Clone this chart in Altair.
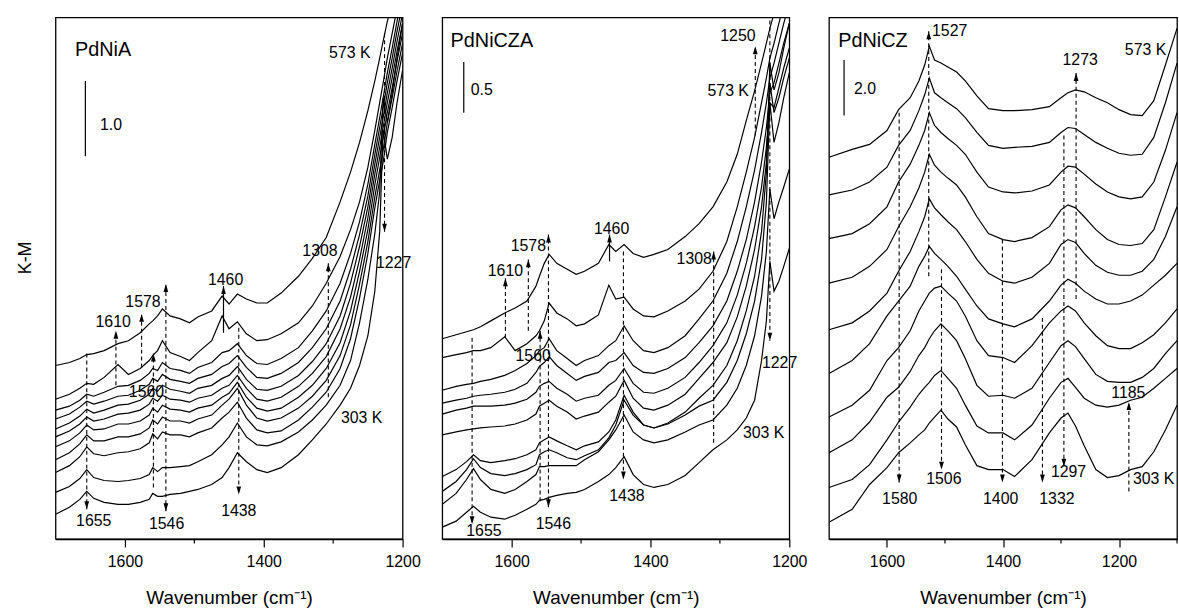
import altair as alt
import pandas as pd

FONT = "Liberation Sans"
H = 526  # plot height (K-M axis span, arbitrary stacked units)

# ---------------- wavenumber grids (cm-1) ----------------
WN_A = [1700, 1680, 1665, 1655, 1645, 1630, 1610, 1595, 1578, 1565, 1560, 1553, 1546, 1535, 1520,
        1507, 1495, 1475, 1460, 1450, 1438, 1425, 1410, 1395, 1375, 1350, 1330, 1310, 1290, 1275,
        1262, 1250, 1240, 1233, 1228, 1222, 1215, 1208, 1200]
WN_B = WN_A
WN_C = [1700, 1660, 1630, 1600, 1580, 1560, 1545, 1535, 1527, 1518, 1507, 1495, 1480, 1465, 1445,
        1425, 1400, 1380, 1350, 1320, 1300, 1288, 1275, 1260, 1240, 1220, 1200, 1180, 1160, 1140,
        1120, 1100]

# ---------------- PdNiA spectra (top = 573 K ... bottom = 303 K), stacked K-M ----------------
A1 = [175, 178, 182, 186, 187, 190, 197, 200, 208, 217, 220, 225, 232, 225, 222, 218, 224, 230, 245, 237,
      247, 242, 238, 238, 248, 265, 283, 304, 340, 370, 400, 432, 462, 485, 502, 522, 540, 560, 585]
A2 = [141, 146, 152, 157, 156, 163, 176, 166, 172, 180, 185, 190, 200, 188, 184, 180, 188, 200, 225, 212,
      219, 207, 200, 201, 207, 218, 235, 258, 285, 312, 340, 375, 412, 440, 460, 485, 510, 535, 560]
A3 = [130, 134, 140, 146, 144, 148, 154, 155, 160, 167, 172, 170, 178, 172, 170, 167, 173, 178, 188, 190,
      197, 185, 177, 176, 182, 193, 210, 230, 258, 288, 320, 358, 398, 425, 445, 470, 495, 522, 550]
A4 = [121, 126, 133, 139, 136, 139, 144, 145, 150, 156, 162, 159, 166, 161, 159, 157, 162, 166, 174, 177,
      185, 173, 163, 162, 167, 178, 193, 212, 240, 272, 307, 346, 388, 415, 435, 460, 485, 512, 540]
A5 = [111, 117, 124, 131, 127, 130, 135, 136, 140, 146, 152, 149, 155, 151, 149, 147, 152, 155, 162, 165,
      174, 161, 151, 150, 154, 165, 179, 197, 225, 258, 295, 335, 378, 405, 425, 450, 475, 502, 530]
A6 = [103, 109, 116, 123, 119, 121, 126, 127, 130, 136, 142, 139, 145, 141, 140, 138, 142, 145, 152, 155,
      165, 152, 141, 139, 143, 154, 167, 184, 212, 244, 282, 324, 368, 395, 415, 440, 465, 492, 520]
A7 = [93, 99, 107, 115, 110, 111, 116, 116, 119, 125, 132, 128, 135, 131, 130, 128, 132, 135, 143, 147,
      158, 143, 132, 129, 132, 143, 155, 172, 198, 230, 270, 312, 357, 385, 405, 430, 455, 482, 510]
A8 = [80, 87, 96, 105, 99, 99, 103, 103, 106, 112, 120, 116, 123, 119, 119, 117, 121, 125, 135, 141,
      152, 135, 122, 119, 122, 132, 144, 160, 185, 216, 257, 300, 345, 372, 392, 420, 445, 472, 500]
A9 = [67, 74, 83, 93, 86, 84, 87, 88, 91, 97, 106, 101, 108, 105, 105, 103, 107, 112, 122, 128,
      138, 122, 110, 107, 109, 120, 133, 148, 172, 202, 243, 288, 334, 362, 380, 410, 435, 462, 490]
A10 = [47, 53, 61, 70, 62, 59, 58, 59, 61, 65, 72, 68, 72, 72, 73, 74, 78, 85, 95, 103,
       117, 103, 95, 94, 98, 108, 120, 135, 155, 180, 218, 262, 308, 350, 445, 420, 450, 485, 520]
A11 = [25, 32, 40, 48, 41, 37, 35, 35, 37, 40, 46, 43, 43, 45, 46, 48, 50, 55, 62, 72,
       87, 78, 70, 67, 72, 85, 100, 116, 135, 152, 175, 205, 250, 310, 413, 383, 405, 440, 473]

# ---------------- PdNiCZA spectra ----------------
B1 = [202, 206, 209, 211, 214, 220, 228, 233, 240, 255, 265, 278, 287, 278, 272, 267, 270, 278, 297, 290,
      297, 288, 284, 287, 292, 305, 318, 335, 360, 388, 422, 452, 480, 500, 515, 530, 545, 560, 580]
B2 = [183, 186, 188, 190, 190, 193, 204, 190, 197, 205, 210, 220, 238, 228, 222, 215, 217, 226, 256, 242,
      244, 232, 225, 224, 230, 240, 252, 270, 300, 335, 370, 405, 440, 465, 485, 500, 520, 540, 560]
B3 = [150, 154, 156, 157, 159, 161, 165, 170, 177, 185, 190, 193, 202, 190, 182, 175, 180, 185, 195, 200,
      215, 200, 190, 188, 193, 205, 222, 240, 268, 300, 335, 372, 410, 440, 465, 480, 500, 520, 540]
B4 = [137, 140, 142, 144, 145, 146, 148, 151, 157, 168, 174, 178, 184, 175, 167, 160, 164, 168, 178, 180,
      188, 175, 168, 167, 172, 183, 198, 215, 240, 270, 302, 340, 380, 415, 450, 460, 480, 500, 520]
B5 = [126, 130, 132, 134, 134, 134, 135, 137, 141, 148, 154, 157, 159, 152, 146, 139, 142, 145, 155, 160,
      172, 157, 148, 147, 152, 163, 178, 195, 218, 246, 278, 315, 355, 395, 440, 435, 455, 475, 495]
B6 = [105, 108, 110, 111, 112, 113, 114, 116, 120, 126, 134, 137, 140, 134, 128, 121, 124, 128, 138, 144,
      160, 142, 132, 130, 135, 146, 162, 178, 198, 224, 255, 292, 335, 380, 460, 430, 445, 465, 485]
B7 = [63, 70, 78, 85, 79, 77, 79, 81, 85, 90, 97, 100, 103, 99, 94, 90, 94, 98, 108, 120,
      145, 128, 115, 112, 117, 128, 142, 155, 175, 200, 230, 265, 310, 370, 480, 453, 470, 495, 520]
B8 = [48, 58, 70, 81, 72, 66, 64, 66, 70, 75, 85, 88, 90, 87, 82, 80, 84, 90, 102, 115,
      140, 125, 115, 112, 116, 125, 134, 140, 158, 180, 207, 240, 282, 340, 440, 400, 420, 445, 470]
B9 = [35, 46, 60, 71, 60, 50, 46, 50, 58, 65, 73, 73, 74, 74, 74, 74, 80, 88, 100, 110,
      125, 108, 100, 97, 100, 108, 115, 120, 135, 152, 175, 205, 245, 290, 353, 323, 340, 355, 373]
B10 = [12, 18, 27, 33, 27, 22, 20, 24, 30, 35, 39, 40, 42, 44, 46, 47, 50, 58, 65, 72,
       83, 65, 55, 52, 55, 64, 77, 90, 100, 110, 122, 140, 180, 220, 280, 250, 260, 275, 293]

# ---------------- PdNiCZ spectra ----------------
C1 = [385, 393, 398, 412, 433, 445, 462, 478, 497, 483, 480, 476, 471, 462, 447, 434, 432, 432, 433, 436,
      445, 450, 453, 451, 445, 440, 433, 428, 427, 442, 478, 515]
C2 = [347, 352, 360, 375, 397, 412, 432, 448, 465, 450, 445, 440, 434, 425, 410, 397, 394, 395, 396, 400,
      410, 415, 414, 408, 400, 394, 389, 387, 388, 405, 440, 480]
C3 = [303, 308, 318, 335, 360, 378, 397, 412, 430, 417, 410, 404, 397, 388, 370, 355, 350, 349, 351, 357,
      370, 376, 375, 368, 358, 350, 345, 343, 345, 360, 392, 430]
C4 = [258, 264, 275, 292, 315, 335, 354, 370, 388, 377, 370, 364, 357, 345, 325, 308, 302, 300, 304, 315,
      332, 337, 334, 325, 312, 302, 297, 296, 298, 312, 345, 380]
C5 = [211, 218, 230, 248, 270, 290, 310, 325, 343, 334, 327, 320, 312, 300, 282, 268, 260, 258, 264, 278,
      297, 302, 299, 288, 276, 269, 266, 266, 270, 282, 305, 335]
C6 = [167, 180, 197, 225, 240, 255, 275, 285, 295, 288, 282, 275, 265, 252, 235, 222, 217, 214, 222, 240,
      256, 262, 258, 250, 242, 237, 237, 240, 246, 256, 266, 278]
C7 = [123, 135, 150, 180, 193, 210, 230, 240, 248, 253, 255, 248, 240, 225, 200, 185, 183, 178, 195, 218,
      230, 235, 230, 218, 205, 195, 192, 192, 198, 206, 218, 232]
C8 = [87, 100, 118, 143, 153, 169, 185, 193, 202, 210, 217, 210, 200, 182, 155, 144, 145, 142, 152, 178,
      195, 200, 194, 182, 166, 159, 158, 158, 163, 172, 187, 200]
C9 = [52, 60, 75, 100, 118, 133, 146, 153, 158, 165, 170, 162, 152, 135, 114, 107, 107, 100, 115, 142,
      158, 162, 153, 142, 135, 133, 135, 140, 143, 152, 162, 172]
C10 = [17, 30, 55, 72, 87, 97, 105, 110, 117, 123, 130, 121, 113, 95, 74, 70, 70, 63, 80, 107,
       122, 127, 114, 94, 70, 62, 64, 70, 73, 88, 110, 135]

# ---------------- axis ticks ----------------
MAJOR_TICKS = [1600, 1400, 1200]
MINOR_TICKS_AB = [1500, 1300]
MINOR_TICKS_C = [1500, 1300, 1100]

# ---------------- annotations: (text, wavenumber, K-M) ----------------
A_TXT = [("1655", 1645, 18), ("1610", 1617, 219), ("1578", 1574, 239), ("1560", 1569, 148),
         ("1546", 1540, 15), ("1460", 1455, 261), ("1438", 1436, 28), ("1308", 1319, 290),
         ("1227", 1213, 278), ("573 K", 1276, 490), ("303 K", 1259, 122)]
A_TXT_L = [("1.0", 1636, 417)]
A_NAME = [("PdNiA", 1672, 493)]
# arrows: (wavenumber, from, tip, head, solid?)
A_ARR = [(1655, 187, 30, "down", False), (1613, 155, 210, "up", False), (1576, 173, 227, "up", False),
         (1559, 52, 187, "up", False), (1541, 28, 257, "both", False), (1458, 208, 255, "up", True),
         (1436, 213, 45, "down", False), (1307, 143, 278, "up", False), (1226, 510, 310, "down", False)]
A_BAR = (1657, 386, 462)

B_TXT = [("1610", 1609, 270), ("1578", 1576, 295), ("1560", 1569, 185), ("1460", 1456, 313),
         ("1308", 1337, 282), ("1250", 1274, 507), ("573 K", 1288, 452), ("1227", 1214, 177),
         ("303 K", 1237, 107), ("1655", 1640, 8), ("1546", 1540, 15), ("1438", 1434, 43)]
B_TXT_L = [("0.5", 1659, 453)]
B_NAME = [("PdNiCZA", 1688, 502)]
B_ARR = [(1657, 203, 15, "down", False), (1609, 203, 263, "up", False), (1576, 210, 282, "up", False),
         (1559, 38, 210, "up", False), (1547, 32, 307, "both", False), (1459, 280, 307, "up", True),
         (1439, 290, 60, "down", False), (1309, 97, 290, "up", False), (1249, 407, 497, "up", False),
         (1228, 523, 200, "down", False)]
B_BAR = (1669, 430, 481)

C_TXT = [("1527", 1492, 512), ("1273", 1267, 483), ("1580", 1578, 40), ("1506", 1502, 60),
         ("1400", 1404, 40), ("1332", 1307, 40), ("1297", 1287, 68), ("1185", 1184, 147)]
C_TXT_L = [("2.0", 1657, 454), ("573 K", 1190, 493), ("303 K", 1176, 60)]
C_NAME = [("PdNiCZ", 1684, 502)]
C_ARR = [(1528, 265, 512, "up", False), (1274, 242, 470, "up", False), (1579, 430, 57, "down", False),
         (1506, 272, 70, "down", False), (1295, 407, 73, "down", False), (1401, 302, 57, "down", False),
         (1332, 223, 57, "down", False), (1183, 48, 138, "up", False)]
C_BAR = (1674, 427, 483)

UP = "M0,-1L0.6,1L-0.6,1Z"
DOWN = "M0,1L0.6,-1L-0.6,-1Z"
MINOR_LEN = 4.5


def spectra_df(wn, curves):
    rows = []
    for i, ys in enumerate(curves):
        for w, v in zip(wn, ys):
            rows.append({"wn": w, "km": v, "curve": f"s{i + 1:02d}"})
    return pd.DataFrame(rows)


def build_panel(wn, curves, lo, width, txt_c, txt_l, name, arrows, bar, minor, ytitle):
    xaxis = alt.Axis(values=MAJOR_TICKS, format="d",
                     tickSize=8, tickColor="black", tickWidth=1.2, domainColor="black", domainWidth=1.3,
                     labelFont=FONT, labelFontSize=16, labelColor="black", labelPadding=7,
                     labelFlush=False, labelOverlap=False, grid=False,
                     title="Wavenumber (cm\u207b\u00b9)", titleFont=FONT, titleFontSize=19,
                     titleFontWeight="normal", titleColor="black", titlePadding=19)
    if ytitle:
        yaxis = alt.Axis(title="K-M", labels=False, ticks=False, domain=False, grid=False,
                         titleFont=FONT, titleFontSize=18, titleFontWeight="normal", titleColor="black",
                         titleX=-30, titleY=242, titleAlign="center", titleBaseline="middle", titleAngle=270)
    else:
        yaxis = None
    x = alt.X("wn:Q", scale=alt.Scale(domain=[lo, 1700], reverse=True, nice=False, zero=False), axis=xaxis)
    y = alt.Y("km:Q", scale=alt.Scale(domain=[0, H], nice=False, zero=False), axis=yaxis)

    lines = alt.Chart(spectra_df(wn, curves)).mark_line(
        color="black", strokeWidth=1.2, clip=True).encode(x=x, y=y, detail="curve:N")

    dashed = pd.DataFrame([{"wn": a[0], "km": a[1], "km2": a[2]} for a in arrows if not a[4]])
    solid = pd.DataFrame([{"wn": a[0], "km": a[1], "km2": a[2]} for a in arrows if a[4]]
                         + [{"wn": bar[0], "km": bar[1], "km2": bar[2]}]
                         + [{"wn": m, "km": 0, "km2": -MINOR_LEN} for m in minor])
    heads = []
    for w, f, t, d, _ in arrows:
        if d == "up":
            heads.append({"wn": w, "km": t - 4, "dir": "up"})
        elif d == "down":
            heads.append({"wn": w, "km": t + 4, "dir": "down"})
        else:
            heads.append({"wn": w, "km": f + 4, "dir": "down"})
            heads.append({"wn": w, "km": t - 4, "dir": "up"})
    heads = pd.DataFrame(heads)

    r_d = alt.Chart(dashed).mark_rule(color="black", strokeWidth=1.1, strokeDash=[4, 3]).encode(
        x="wn:Q", y="km:Q", y2="km2:Q")
    r_s = alt.Chart(solid).mark_rule(color="black", strokeWidth=1.2).encode(
        x="wn:Q", y="km:Q", y2="km2:Q")
    hd = alt.Chart(heads).mark_point(filled=True, color="black", opacity=1, size=64, strokeWidth=0).encode(
        x="wn:Q", y="km:Q",
        shape=alt.Shape("dir:N", scale=alt.Scale(domain=["up", "down"], range=[UP, DOWN]), legend=None))

    def tdf(lst):
        return pd.DataFrame([{"t": a[0], "wn": a[1], "km": a[2]} for a in lst])

    t_c = alt.Chart(tdf(txt_c)).mark_text(font=FONT, fontSize=16, color="black", align="center",
                                          baseline="middle").encode(x="wn:Q", y="km:Q", text="t:N")
    t_l = alt.Chart(tdf(txt_l)).mark_text(font=FONT, fontSize=16, color="black", align="left",
                                          baseline="middle").encode(x="wn:Q", y="km:Q", text="t:N")
    t_n = alt.Chart(tdf(name)).mark_text(font=FONT, fontSize=20, color="black", align="left",
                                         baseline="middle").encode(x="wn:Q", y="km:Q", text="t:N")
    return alt.layer(lines, r_d, r_s, hd, t_c, t_l, t_n).properties(width=width, height=H)


pA = build_panel(WN_A, [A1, A2, A3, A4, A5, A6, A7, A8, A9, A10, A11], 1200, 350,
                 A_TXT, A_TXT_L, A_NAME, A_ARR, A_BAR, MINOR_TICKS_AB, True)
pB = build_panel(WN_B, [B1, B2, B3, B4, B5, B6, B7, B8, B9, B10], 1200, 350,
                 B_TXT, B_TXT_L, B_NAME, B_ARR, B_BAR, MINOR_TICKS_AB, False)
pC = build_panel(WN_C, [C1, C2, C3, C4, C5, C6, C7, C8, C9, C10], 1100, 351,
                 C_TXT, C_TXT_L, C_NAME, C_ARR, C_BAR, MINOR_TICKS_C, False)

chart = alt.hconcat(pA, pB, pC, spacing=40, bounds="flush").properties(
    padding={"left": 16, "top": 14, "right": 0, "bottom": 0}
).configure_view(stroke="black", strokeWidth=1.3)

chart.save("out.html", embed_options={"renderer": "svg", "actions": False})
